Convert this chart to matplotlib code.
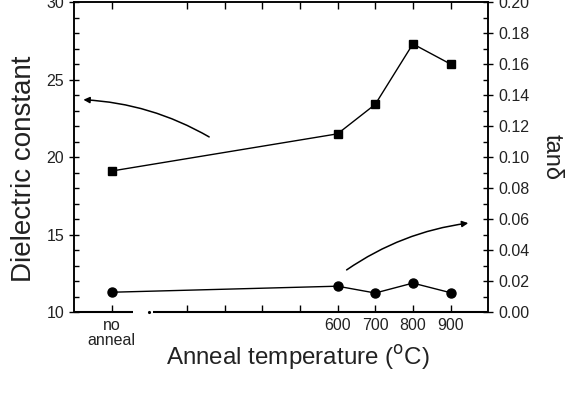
import matplotlib
matplotlib.use('Agg')
import matplotlib.pyplot as plt
from matplotlib.ticker import MultipleLocator

plt.rcParams['font.family'] = ['Liberation Sans', 'DejaVu Sans']

# Data
temps = [0, 600, 700, 800, 900]
dielectric = [19.1, 21.5, 23.4, 27.3, 26.0]
tan_delta = [0.0128, 0.0167, 0.0123, 0.0187, 0.0125]
xtick_pos = [0, 200, 300, 400, 500, 600, 700, 800, 900]
xtick_labels = ['no\nanneal', '', '', '', '', '600', '700', '800', '900']

fig = plt.figure(figsize=(5.69, 4.15), dpi=100)
ax = fig.add_axes([0.130, 0.248, 0.728, 0.747])
ax2 = ax.twinx()

lc = '#222222'
ax.plot(temps, dielectric, '-s', color='black', lw=1.0, ms=6, zorder=3)
ax2.plot(temps, tan_delta, '-o', color='black', lw=1.0, ms=6.5, zorder=3)

ax.set_xlim(-100, 1000)
ax.set_ylim(10, 30)
ax2.set_ylim(0, 0.20)

ax.yaxis.set_major_locator(MultipleLocator(5))
ax.yaxis.set_minor_locator(MultipleLocator(1))
ax2.yaxis.set_major_locator(MultipleLocator(0.02))
ax2.yaxis.set_minor_locator(MultipleLocator(0.01))
ax2.yaxis.set_major_formatter(matplotlib.ticker.FormatStrFormatter('%.2f'))

ax.set_xticks(xtick_pos)
ax.set_xticklabels(xtick_labels)
for lab in ax.get_xticklabels():
    if 'anneal' in lab.get_text():
        lab.set_fontsize(9.5)
        lab.set_linespacing(1.0)

for a in (ax, ax2):
    for s in a.spines.values():
        s.set_linewidth(1.1)
ax.spines['bottom'].set_visible(False)
ax2.spines['bottom'].set_visible(False)

# broken bottom axis
tr = ax.get_xaxis_transform()
ax.plot([-100, 58], [0, 0], transform=tr, color='black', lw=1.5, clip_on=False, solid_capstyle='butt')
ax.plot([109, 1000], [0, 0], transform=tr, color='black', lw=1.5, clip_on=False, solid_capstyle='butt')
ax.plot([99], [0], transform=tr, marker='.', ms=2.5, color='black', clip_on=False)

ax.tick_params(axis='x', which='major', direction='in', length=5, width=1, top=True,
               labelsize=11.5, labelcolor=lc, pad=4)
ax.tick_params(axis='y', which='major', direction='inout', length=7, width=1,
               labelsize=11.5, labelcolor=lc)
ax.tick_params(axis='y', which='minor', direction='in', length=3.5, width=1)
ax2.tick_params(axis='y', which='major', direction='inout', length=7, width=1,
                labelsize=11.5, labelcolor=lc)
ax2.tick_params(axis='y', which='minor', direction='in', length=3.5, width=1)

ax.set_xlabel('Anneal temperature ($^{\\rm o}$C)', fontsize=17.4, color=lc)
ax.xaxis.set_label_coords(0.541, -0.10)
ax.set_ylabel('Dielectric constant', fontsize=20, color=lc)
ax.yaxis.set_label_coords(-0.089, 0.461)
ax2.set_ylabel('tanδ', fontsize=17, color=lc, rotation=270, labelpad=24)

# arrows
ax.annotate('', xy=(-75, 23.7), xytext=(259, 21.3), xycoords='data', textcoords='data',
            arrowprops=dict(arrowstyle='-|>', color='black', lw=1.1, mutation_scale=9,
                            connectionstyle='arc3,rad=0.12', shrinkA=0, shrinkB=0))
ax2.annotate('', xy=(947, 0.0574), xytext=(624, 0.0272), xycoords='data', textcoords='data',
             arrowprops=dict(arrowstyle='-|>', color='black', lw=1.1, mutation_scale=9,
                             connectionstyle='arc3,rad=-0.12', shrinkA=0, shrinkB=0))

fig.savefig('out.png', dpi=100)
